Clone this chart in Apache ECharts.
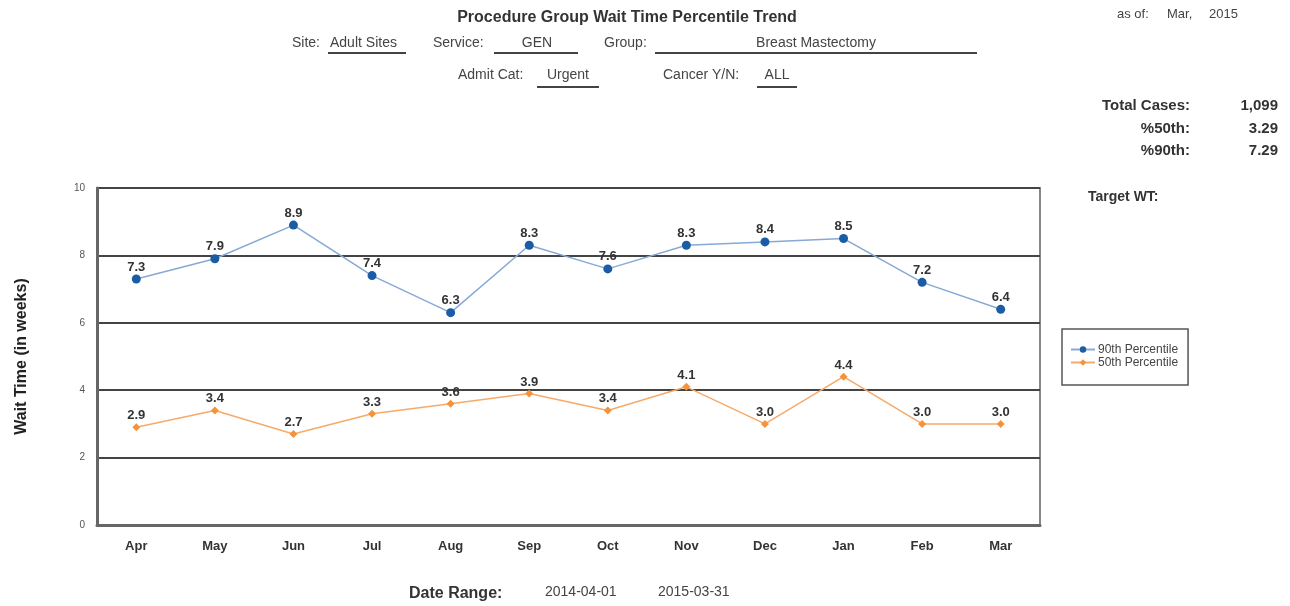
<!DOCTYPE html>
<html>
<head>
<meta charset="utf-8">
<script src="https://cdn.jsdelivr.net/npm/echarts@6/dist/echarts.min.js"></script>
<style>
  html, body { margin: 0; padding: 0; background: #fff; }
  #chart { width: 1290px; height: 606px; }
</style>
</head>
<body>
<div id="chart"></div>
<script>
// months of the fiscal year
const months = ['Apr', 'May', 'Jun', 'Jul', 'Aug', 'Sep', 'Oct', 'Nov', 'Dec', 'Jan', 'Feb', 'Mar']
const p90 = [7.3, 7.9, 8.9, 7.4, 6.3, 8.3, 7.6, 8.3, 8.4, 8.5, 7.2, 6.4]
const p50 = [2.9, 3.4, 2.7, 3.3, 3.6, 3.9, 3.4, 4.1, 3.0, 4.4, 3.0, 3.0]
const seriesNames = ['90th Percentile', '50th Percentile']
const summaryLabels = ['Total Cases:', '%50th:', '%90th:']
const summaryValues = ['1,099', '3.29', '7.29']

const chart = echarts.init(document.getElementById('chart'))

const font = 'Liberation Sans, Arial, sans-serif'
const txt = (x, y, text, opts = {}) => ({
  type: 'text', x, y,
  style: Object.assign({
    text, fill: '#444', font: `14px ${font}`, textVerticalAlign: 'middle'
  }, opts)
})
const uline = (x1, x2, y) => ({
  type: 'line', shape: {x1, y1: y, x2, y2: y},
  style: {stroke: '#444', lineWidth: 2}
})

const graphics = [
  txt(627, 18, 'Procedure Group Wait Time Percentile Trend', {font: `bold 16px ${font}`, textAlign: 'center', fill: '#333'}),
  txt(1117, 14, 'as of:', {font: `13px ${font}`}),
  txt(1167, 14, 'Mar,', {font: `13px ${font}`}),
  txt(1209, 14, '2015', {font: `13px ${font}`}),
  // header line 2
  txt(292, 43, 'Site:'),
  txt(330, 43, 'Adult Sites'),
  uline(328, 406, 53),
  txt(433, 43, 'Service:'),
  txt(537, 43, 'GEN', {textAlign: 'center'}),
  uline(494, 578, 53),
  txt(604, 43, 'Group:'),
  txt(816, 43, 'Breast Mastectomy', {textAlign: 'center'}),
  uline(655, 977, 53),
  // header line 3
  txt(458, 75, 'Admit Cat:'),
  txt(568, 75, 'Urgent', {textAlign: 'center'}),
  uline(537, 599, 87),
  txt(663, 75, 'Cancer Y/N:'),
  txt(777, 75, 'ALL', {textAlign: 'center'}),
  uline(757, 797, 87),
  // target
  txt(1088, 197, 'Target WT:', {font: `bold 14px ${font}`, fill: '#333'}),
  // date range
  txt(409, 594, 'Date Range:', {font: `bold 16px ${font}`, fill: '#333'}),
  txt(545, 592, '2014-04-01'),
  txt(658, 592, '2015-03-31')
]
summaryLabels.forEach((s, i) => {
  graphics.push(txt(1190, 106 + i * 22.5, s, {font: `bold 15px ${font}`, textAlign: 'right', fill: '#333'}))
  graphics.push(txt(1278, 106 + i * 22.5, summaryValues[i], {font: `bold 15px ${font}`, textAlign: 'right', fill: '#333'}))
})

const option = {
  backgroundColor: '#fff',
  textStyle: {fontFamily: font},
  graphic: graphics,
  grid: {
    left: 97, right: 250, top: 188, bottom: 81,
    show: true, borderColor: '#888', borderWidth: 2
  },
  legend: {
    orient: 'vertical',
    left: 1062, top: 329,
    padding: [14, 10, 16, 8],
    itemGap: 0,
    itemWidth: 24, itemHeight: 8,
    borderColor: '#555', borderWidth: 1.5,
    textStyle: {fontSize: 12, lineHeight: 13, color: '#444', padding: [0, 0, 0, -2]},
    data: seriesNames
  },
  xAxis: {
    type: 'category',
    data: months,
    boundaryGap: true,
    axisLine: {lineStyle: {color: '#666', width: 3}},
    axisTick: {show: false},
    axisLabel: {margin: 15, fontSize: 13, fontWeight: 'bold', color: '#333'}
  },
  yAxis: {
    type: 'value',
    min: 0, max: 10, interval: 2,
    name: 'Wait Time (in weeks)',
    nameLocation: 'middle',
    nameGap: 67,
    nameTextStyle: {fontSize: 16, fontWeight: 'bold', color: '#222'},
    axisLine: {show: true, lineStyle: {color: '#666', width: 3}},
    axisTick: {show: false},
    axisLabel: {margin: 12, fontSize: 10, color: '#555'},
    splitLine: {lineStyle: {color: '#444', width: 2}}
  },
  series: [
    {
      name: seriesNames[0],
      type: 'line',
      data: p90,
      symbol: 'circle',
      symbolSize: 9,
      itemStyle: {color: '#1a5da6'},
      lineStyle: {color: '#86a9d6', width: 1.5},
      label: {
        show: true, position: 'top', distance: 1,
        formatter: p => p.value.toFixed(1),
        fontSize: 13, fontWeight: 'bold', color: '#333'
      }
    },
    {
      name: seriesNames[1],
      type: 'line',
      data: p50,
      symbol: 'diamond',
      symbolSize: 8,
      itemStyle: {color: '#f5923a'},
      lineStyle: {color: '#f6aa6a', width: 1.5},
      label: {
        show: true, position: 'top', distance: 1,
        formatter: p => p.value.toFixed(1),
        fontSize: 13, fontWeight: 'bold', color: '#333'
      }
    }
  ]
}

chart.setOption(option)
</script>
</body>
</html>
